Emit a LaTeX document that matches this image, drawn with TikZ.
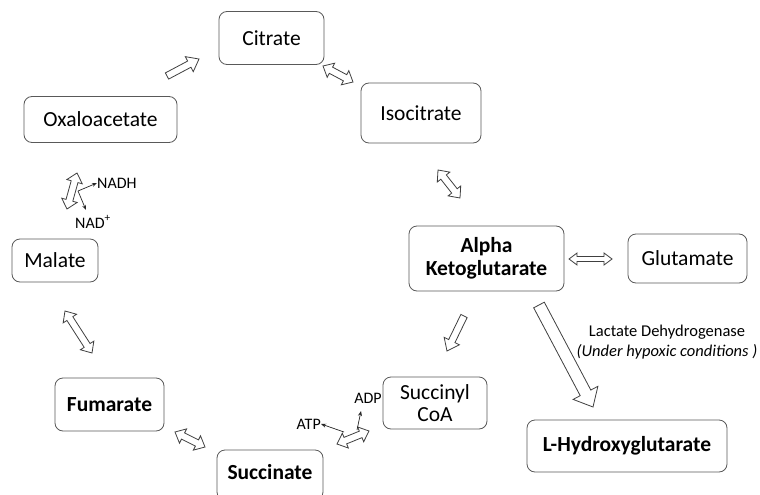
\documentclass[tikz,border=0pt]{standalone}
\usepackage{fontspec}
\setmainfont{Carlito}
\usetikzlibrary{calc,arrows.meta}
\tikzset{
  box/.style={draw=black!65, line width=0.8pt, rounded corners=8pt, inner sep=0pt, align=center,
    font=\fontsize{21.5}{23}\selectfont, text=black},
  boldbox/.style={box, font=\fontsize{21.5}{23}\selectfont\bfseries},
  arrowline/.style={draw=black!75, line width=0.8pt, line join=miter},
  smallarrow/.style={draw=black!85, line width=0.7pt, -{Stealth[length=5pt,width=4pt]}},
  smalllabel/.style={font=\fontsize{16}{18}\selectfont, inner sep=0pt, text=black},
  notelabel/.style={font=\fontsize{16.5}{20}\selectfont, inner sep=0pt, align=center, text=black}
}
% single block arrow: start, end, shaft half width, head half width, head length
\newcommand\singleblock[5]{%
  \draw[arrowline] let \p1=(#1), \p2=(#2), \n1={atan2(\y2-\y1,\x2-\x1)}, \n2={veclen(\x2-\x1,\y2-\y1)} in
   [shift={(\p1)}, rotate=\n1]
   (0pt,#3pt) -- ({(\n2-#5)*1pt},#3pt) -- ({(\n2-#5)*1pt},#4pt) -- ({\n2*1pt},0pt)
   -- ({(\n2-#5)*1pt},-#4pt) -- ({(\n2-#5)*1pt},-#3pt) -- (0pt,-#3pt) -- cycle;}
% double block arrow
\newcommand\doubleblock[5]{%
  \draw[arrowline] let \p1=(#1), \p2=(#2), \n1={atan2(\y2-\y1,\x2-\x1)}, \n2={veclen(\x2-\x1,\y2-\y1)} in
   [shift={(\p1)}, rotate=\n1]
   (0pt,0pt) -- (#5pt,#4pt) -- (#5pt,#3pt) -- ({(\n2-#5)*1pt},#3pt) -- ({(\n2-#5)*1pt},#4pt) -- ({\n2*1pt},0pt)
   -- ({(\n2-#5)*1pt},-#4pt) -- ({(\n2-#5)*1pt},-#3pt) -- (#5pt,-#3pt) -- (#5pt,-#4pt) -- cycle;}
\begin{document}
\begin{tikzpicture}[x=1pt,y=-1pt]
\useasboundingbox (0,0) rectangle (760,495);
\clip (0,0) rectangle (760,495);
\fill[white] (0,0) rectangle (760,495);

% boxes
\node[box, minimum width=105, minimum height=53] (cit) at (271.5,38) {Citrate};
\node[box, minimum width=120, minimum height=60] (iso) at (421,113) {Isocitrate};
\node[box, minimum width=153, minimum height=46] (oxa) at (100.5,119.5) {Oxaloacetate};
\node[boldbox, minimum width=155, minimum height=65] (akg) at (486.5,258.5) {Alpha\\Ketoglutarate};
\node[box, minimum width=119, minimum height=49] (glu) at (687.5,258.5) {Glutamate};
\node[boldbox, minimum width=200, minimum height=52] (lhg) at (627,446) {L-Hydroxyglutarate};
\node[box, minimum width=104, minimum height=52, font=\fontsize{21.5}{22}\selectfont] (sca) at (435,403) {Succinyl\\CoA};
\node[boldbox, minimum width=106, minimum height=50] (suc) at (270,475) {};
\node[font=\fontsize{21.5}{23}\selectfont\bfseries, inner sep=0pt] (suct) at (270,472) {Succinate};
\node[boldbox, minimum width=109, minimum height=53] (fum) at (109.5,404.5) {Fumarate};
\node[box, minimum width=86, minimum height=43] (mal) at (55,260.5) {Malate};

% arrow end points
\coordinate (a1s) at (167,76);  \coordinate (a1e) at (199,59);
\coordinate (a2s) at (323,66);  \coordinate (a2e) at (353,82);
\coordinate (a3s) at (438,170); \coordinate (a3e) at (460,198);
\coordinate (a4s) at (569,259); \coordinate (a4e) at (612,259);
\coordinate (a5s) at (464,316); \coordinate (a5e) at (447,351);
\coordinate (a6s) at (539,305); \coordinate (a6e) at (593,407);
\coordinate (a7s) at (337,444); \coordinate (a7e) at (369,431);
\coordinate (a8s) at (175,432); \coordinate (a8e) at (205,447);
\coordinate (a9s) at (65,311);  \coordinate (a9e) at (92,353);
\coordinate (a10s) at (77,173); \coordinate (a10e) at (67,209);

\singleblock{a1s}{a1e}{3.5}{8.5}{11}
\doubleblock{a2s}{a2e}{3.5}{8}{9}
\doubleblock{a3s}{a3e}{3.5}{8}{9}
\doubleblock{a4s}{a4e}{2.5}{6}{8}
\singleblock{a5s}{a5e}{3.5}{8.5}{11}
\singleblock{a6s}{a6e}{6}{14}{16}
\doubleblock{a7s}{a7e}{3.5}{8}{9}
\doubleblock{a8s}{a8e}{3.5}{8}{9}
\doubleblock{a9s}{a9e}{3.5}{8}{9}
\doubleblock{a10s}{a10e}{3.5}{8}{9}

% cofactors
\coordinate (nb) at (78,191);
\node[smalllabel, anchor=west] (nadh) at (97,183) {NADH};
\node[smalllabel] (nad) at (93,222) {NAD\textsuperscript{+}};
\draw[smallarrow] (nb) -- (nadh.west);
\draw[smallarrow] (nb) -- (86,210);

\coordinate (sb) at (344,432);
\coordinate (sb2) at (357,430);
\node[smalllabel, anchor=east] (atp) at (321,424) {ATP};
\node[smalllabel] (adp) at (368,398) {ADP};
\draw[smallarrow] (sb) -- (atp.east);
\draw[smallarrow] (sb2) -- (361,411);

% enzyme note
\node[notelabel] (note) at (667,342) {Lactate Dehydrogenase\\\textit{(Under hypoxic conditions )}};
\end{tikzpicture}
\end{document}
